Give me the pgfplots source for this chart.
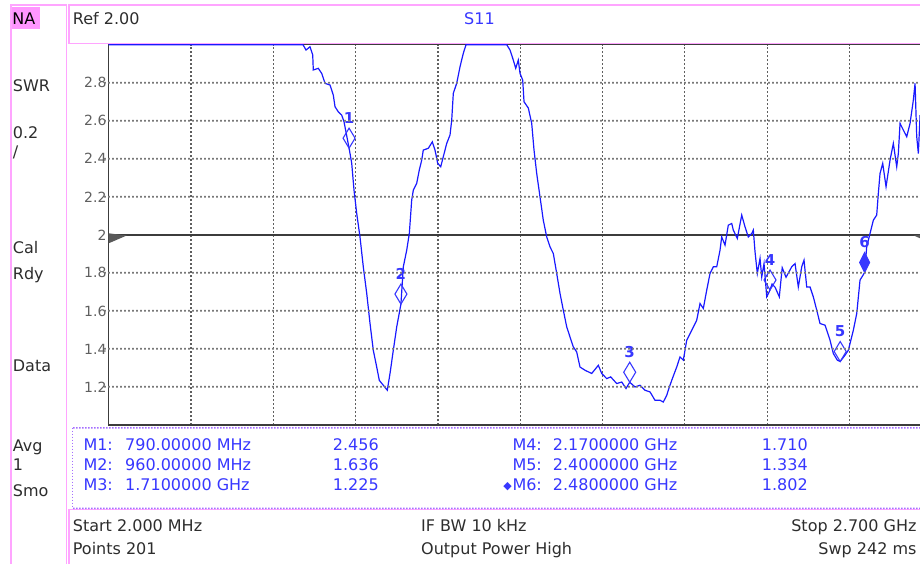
\documentclass[border=0pt]{standalone}
\usepackage{pgfplots}
\pgfplotsset{compat=1.18}
\usepackage{fontspec}
\setmainfont{DejaVu Sans}
\definecolor{pinkline}{RGB}{255,165,255}
\definecolor{nabg}{RGB}{255,150,255}
\definecolor{trace}{RGB}{25,25,255}
\definecolor{mtext}{RGB}{55,55,255}
\definecolor{dotpurple}{RGB}{165,110,255}
\definecolor{txt}{RGB}{45,45,45}
\definecolor{gridc}{RGB}{95,95,95}
\definecolor{hgridc}{RGB}{120,120,120}
\definecolor{framec}{RGB}{60,60,60}
\definecolor{ticktxt}{RGB}{95,95,95}
\newcommand{\fs}[1]{\fontsize{#1}{#1}\selectfont}
\newcommand{\TXT}[5]{\node[anchor=#3, inner sep=0pt, text=#4, font=\fs{16}] at (#1pt,-#2pt) {#5};}
\pgfdeclareplotmark{vnadiam}{%
  \pgfpathmoveto{\pgfpointorigin}%
  \pgfpathlineto{\pgfpoint{6pt}{10pt}}%
  \pgfpathlineto{\pgfpoint{0pt}{20pt}}%
  \pgfpathlineto{\pgfpoint{-6pt}{10pt}}%
  \pgfpathclose\pgfusepathqstroke}
\pgfdeclareplotmark{vnadiamf}{%
  \pgfpathmoveto{\pgfpointorigin}%
  \pgfpathlineto{\pgfpoint{5pt}{10pt}}%
  \pgfpathlineto{\pgfpoint{0pt}{20pt}}%
  \pgfpathlineto{\pgfpoint{-5pt}{10pt}}%
  \pgfpathclose\pgfusepathqfillstroke}
\tikzset{vnagrid/.style={draw=gridc, line width=1.2pt, dash pattern=on 1.6pt off 2.4pt}}
\begin{document}
\begin{tikzpicture}
\useasboundingbox (0pt,0pt) rectangle (920pt,-563pt);
\begin{scope}
\clip (0pt,0pt) rectangle (920pt,-563pt);
% left panel and boxes
\fill[nabg] (11.7pt,-6.7pt) rectangle (40pt,-29pt);
\draw[pinkline, line width=1.5pt] (11pt,-570pt) -- (11pt,-5pt) -- (66.7pt,-5pt) -- (66.7pt,-570pt);
\draw[pinkline, line width=1.5pt] (69pt,-5pt) rectangle (940pt,-43.3pt);
\draw[pinkline, line width=1.5pt] (69pt,-575pt) rectangle (940pt,-509.3pt);
% marker table dotted frame
\draw[dotpurple, line width=1pt, dash pattern=on 1pt off 2pt] (72.7pt,-427.7pt) -- (72.7pt,-508.3pt);
\foreach \gy in {427,507.6}{
  \fill[dotpurple] \foreach \gx in {73,76,...,920} {(\gx pt,-\gy pt) rectangle ++(1.5pt,-1.5pt)};
}
% left panel text
\TXT{12.3}{24}{base west}{black}{NA}
\TXT{12.7}{91}{base west}{txt}{SWR}
\TXT{12.7}{138}{base west}{txt}{0.2}
\TXT{12.7}{157}{base west}{txt}{/}
\TXT{12.7}{253.3}{base west}{txt}{Cal}
\TXT{12.7}{279}{base west}{txt}{Rdy}
\TXT{12.7}{371.7}{base west}{txt}{Data}
\TXT{12.7}{451.7}{base west}{txt}{Avg}
\TXT{12.7}{470}{base west}{txt}{1}
\TXT{12.7}{496.7}{base west}{txt}{Smo}
% header
\TXT{72.7}{24.3}{base west}{txt}{Ref 2.00}
\TXT{479.5}{24.3}{base}{mtext}{S11}
% marker table
\TXT{83.3}{450}{base west}{mtext}{M1:}
\TXT{83.3}{470.4}{base west}{mtext}{M2:}
\TXT{83.3}{490.7}{base west}{mtext}{M3:}
\TXT{125}{450}{base west}{mtext}{790.00000 MHz}
\TXT{125}{470.4}{base west}{mtext}{960.00000 MHz}
\TXT{125}{490.7}{base west}{mtext}{1.7100000 GHz}
\TXT{332.7}{450}{base west}{mtext}{2.456}
\TXT{332.7}{470.4}{base west}{mtext}{1.636}
\TXT{332.7}{490.7}{base west}{mtext}{1.225}
\TXT{512.3}{450}{base west}{mtext}{M4:}
\TXT{512.3}{470.4}{base west}{mtext}{M5:}
\TXT{512.3}{490.7}{base west}{mtext}{M6:}
\node[anchor=base east, inner sep=0pt, text=mtext, font=\fs{11}] at (512pt,-489pt) {◆};
\TXT{552.7}{450}{base west}{mtext}{2.1700000 GHz}
\TXT{552.7}{470.4}{base west}{mtext}{2.4000000 GHz}
\TXT{552.7}{490.7}{base west}{mtext}{2.4800000 GHz}
\TXT{761.7}{450}{base west}{mtext}{1.710}
\TXT{761.7}{470.4}{base west}{mtext}{1.334}
\TXT{761.7}{490.7}{base west}{mtext}{1.802}
% status bar
\TXT{72.7}{531.7}{base west}{txt}{Start 2.000 MHz}
\TXT{72.7}{554}{base west}{txt}{Points 201}
\TXT{421}{531.7}{base west}{txt}{IF BW 10 kHz}
\TXT{421}{554}{base west}{txt}{Output Power High}
\TXT{916.7}{531.7}{base east}{txt}{Stop 2.700 GHz}
\TXT{916.7}{554}{base east}{txt}{Swp 242 ms}
\begin{axis}[
  at={(108.7pt,-425pt)}, anchor=south west,
  scale only axis, width=823pt, height=380.3pt,
  xmin=2, xmax=2700, ymin=1, ymax=3,
  clip=false,
  axis line style={framec, line width=1.5pt},
  xtick={271.8,541.6,811.4,1081.2,1351,1620.8,1890.6,2160.4,2430.2},
  xticklabels={},
  ytick={1.2,1.4,1.6,1.8,2,2.2,2.4,2.6,2.8},
  yticklabels={1.2,1.4,1.6,1.8,2,2.2,2.4,2.6,2.8},
  major tick length=0pt,
  xmajorgrids=true, ymajorgrids=false,
  major grid style={vnagrid},
  yticklabel style={font=\fs{14}, text=ticktxt, anchor=east, inner sep=0pt, xshift=-2pt},
]
\addplot[framec, line width=1.6pt] coordinates {(2,2) (2700,2)};
\addplot[trace, line width=1.2pt] coordinates {
(2,3.0) (639,3.0) (648.8,2.972) (661.9,2.989) (670.8,2.946) (672.7,2.867) (689.1,2.876) (700.3,2.849)
(711.1,2.797) (727.5,2.788) (738.3,2.735) (743.9,2.674) (754.7,2.647) (765.8,2.630) (773.4,2.595)
(790,2.456) (798.6,2.377) (806.2,2.235) (815.0,2.113) (825.8,1.989) (836.6,1.832) (847.8,1.693)
(858.6,1.535) (869.4,1.393) (880.6,1.305) (889.1,1.235) (902.2,1.209) (915.3,1.183) (924.2,1.271)
(935.0,1.393) (946.2,1.516) (960,1.636) (967.8,1.832) (978.9,1.919) (987.5,2.007) (995.3,2.183)
(1000.6,2.235) (1011.7,2.271) (1020.2,2.341) (1028.1,2.393) (1033.3,2.446) (1049.7,2.455) (1062.9,2.489)
(1071.7,2.446) (1080.6,2.376) (1090.4,2.358) (1098.9,2.411) (1110.1,2.481) (1120.9,2.525) (1126.5,2.604)
(1131.7,2.744) (1142.8,2.797) (1153.7,2.884) (1164.5,2.955) (1173.4,3.0) (1306.8,3.0) (1317.6,2.972)
(1328.4,2.919) (1336.3,2.876) (1344.8,2.919) (1350.4,2.849) (1359.2,2.814) (1363.5,2.700) (1377.6,2.667)
(1388.7,2.586) (1396.3,2.446) (1405.1,2.323) (1415.9,2.200) (1426.7,2.077) (1437.9,1.989) (1448.7,1.937)
(1459.5,1.902) (1470.7,1.797) (1481.5,1.692) (1492.3,1.604) (1503.5,1.516) (1514.3,1.463) (1525.1,1.411)
(1536.2,1.384) (1547.0,1.305) (1563.4,1.288) (1585.4,1.271) (1607.1,1.314) (1618.2,1.271) (1634.6,1.244)
(1647.7,1.253) (1667.4,1.218) (1683.8,1.226) (1697.9,1.192) (1710,1.225) (1727.4,1.200) (1743.8,1.209)
(1760.2,1.183) (1776.6,1.174) (1792.9,1.130) (1809.3,1.130) (1820.1,1.121) (1831.3,1.156) (1836.5,1.183)
(1847.7,1.235) (1864.1,1.305) (1874.9,1.358) (1885.7,1.341) (1896.9,1.446) (1913.3,1.498) (1929.6,1.551)
(1940.5,1.639) (1951.3,1.613) (1962.4,1.709) (1973.3,1.797) (1984.1,1.832) (1995.2,1.832) (2006.0,1.919)
(2011.6,1.989) (2022.4,1.946) (2033.2,2.051) (2044.4,2.060) (2049.6,2.025) (2062.7,1.981) (2077.2,2.104)
(2088.0,2.042) (2098.8,1.989) (2110.0,2.007) (2115.2,2.025) (2120.8,1.911) (2128.3,1.797) (2137.2,1.876)
(2142.8,1.779) (2150.3,1.849) (2159.2,1.674) (2170,1.710) (2176.5,1.741) (2186.4,1.725) (2200.4,1.674)
(2209.9,1.827) (2222.4,1.777) (2241.1,1.832) (2252.0,1.849) (2262.7,1.726) (2273.9,1.832) (2281.4,1.867)
(2290.3,1.726) (2301.1,1.726) (2311.9,1.674) (2323.1,1.604) (2333.9,1.534) (2350.3,1.525) (2366.7,1.446)
(2377.5,1.376) (2390.6,1.341) (2400,1.334) (2415.8,1.367) (2426.6,1.393) (2443.0,1.498) (2454.2,1.586)
(2465.0,1.762) (2480,1.802) (2486.9,1.937) (2497.8,2.007) (2508.6,2.077) (2519.7,2.104) (2525.0,2.218)
(2530.6,2.323) (2539.4,2.376) (2550.3,2.253) (2563.4,2.393) (2574.2,2.481) (2585.3,2.358) (2590.6,2.428)
(2596.2,2.586) (2607.0,2.551) (2618.1,2.516) (2629.0,2.586) (2639.8,2.709) (2645.4,2.797) (2650.9,2.516)
(2656.2,2.428) (2661.7,2.621) (2678.1,2.577) (2700,2.656)
};
\addplot[mtext, line width=1.1pt, only marks, mark=vnadiam,
  point meta=explicit symbolic, nodes near coords,
  every node near coord/.append style={anchor=south, inner sep=0pt, yshift=24pt,
    font=\bfseries\fs{15}, text=mtext}]
  table[meta=lab] {
x y lab
790 2.456 1
960 1.636 2
1710 1.225 3
2170 1.710 4
2400 1.334 5
};
\addplot[mtext, fill=mtext, line width=1pt, only marks, mark=vnadiamf,
  point meta=explicit symbolic, nodes near coords,
  every node near coord/.append style={anchor=south, inner sep=0pt, yshift=24pt,
    font=\bfseries\fs{15}, text=mtext}]
  table[meta=lab] {
x y lab
2480 1.802 6
};
\end{axis}
% horizontal grid lines as rows of dots, drawn after the axis
\foreach \gy in {81.8,119.8,157.8,195.8,271.8,309.8,347.8,385.8}{
  \fill[hgridc] \foreach \gx in {104,108,...,920} {(\gx pt,-\gy pt) rectangle ++(1.8pt,-1.8pt)};
}
% reference level triangles
\fill[framec!85] (108.7pt,-233.3pt) -- (126.7pt,-235.5pt) -- (108.7pt,-243.3pt) -- cycle;
\fill[framec!85] (913.7pt,-235.5pt) -- (931.7pt,-233.3pt) -- (931.7pt,-243.3pt) -- cycle;
\end{scope}
\end{tikzpicture}
\end{document}
